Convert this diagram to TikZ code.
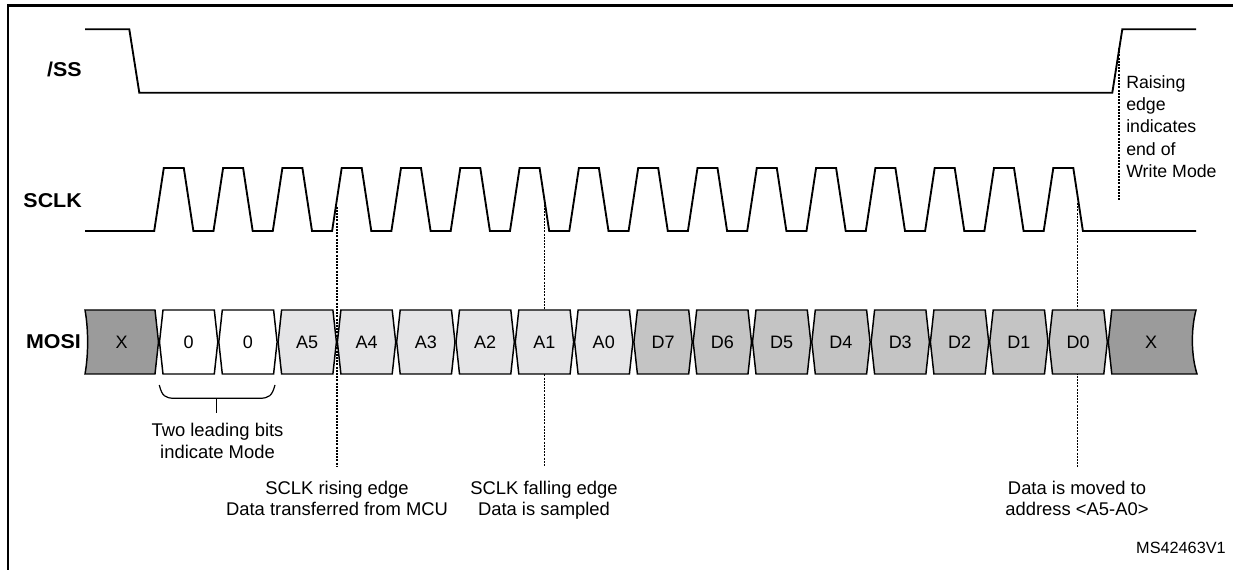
\documentclass[tikz,border=0pt]{standalone}
\usepackage{fontspec}
\setmainfont{Liberation Sans}
\newfontfamily\lblfont{Liberation Sans}[FakeStretch=1.07]
\definecolor{xgray}{HTML}{9B9B9B}
\definecolor{dgray}{HTML}{C4C4C4}
\definecolor{agray}{HTML}{E4E4E6}
\begin{document}
\begin{tikzpicture}[x=0.75pt,y=-0.75pt,
  sig/.style={line width=1.4pt, line join=miter},
  guide/.style={line width=1pt, dash pattern=on 1.5pt off 0.9pt},
  busbox/.style={line width=1.1pt, draw=black},
  lbl/.style={font=\lblfont\fontsize{15}{17}\selectfont\bfseries, inner sep=0pt, anchor=east},
  captext/.style={font=\fontsize{13.8}{16.2}\selectfont, inner sep=0pt, align=center, anchor=north},
  bit/.style={font=\fontsize{13.5}{15}\selectfont, inner sep=0pt}]
\useasboundingbox (0,0) rectangle (1233,570);
\fill[white] (0,0) rectangle (1233,570);
% frame
\draw[line width=1.6pt] (8,570) -- (8,5.5) -- (1233,5.5);
% labels
\node[lbl] (ss) at (82,69.7) {/SS};
\node[lbl] (sclk) at (82,200.5) {SCLK};
\node[lbl] (mosi) at (81,342) {MOSI};
% /SS
\draw[sig] (85,29.3) -- (129.3,29.3) -- (139.3,92.7) -- (1112.3,92.7) -- (1122.3,29.3) -- (1196,29.3);
% SCLK
\draw[sig] (85,231) foreach \k in {0,...,15} {
  -- ({154.2+59.3*\k},231) -- ({163.8+59.3*\k},168) -- ({183.8+59.3*\k},168) -- ({193.4+59.3*\k},231)
} -- (1196,231);
% guide lines
\coordinate (g1a) at (337,206.7);  \coordinate (g1b) at (337,466.7);
\coordinate (g2a) at (544.4,201.7); \coordinate (g2b) at (544.4,466.7);
\coordinate (g3a) at (1077.8,203);  \coordinate (g3b) at (1077.8,466.7);
\coordinate (g4a) at (1119,48);     \coordinate (g4b) at (1119,200);
\draw[guide] (g1a) -- (g1b);
\draw[guide] (g2a) -- (g2b);
\draw[guide] (g3a) -- (g3b);
\draw[guide] (g4a) -- (g4b);
% MOSI bus
\filldraw[busbox, fill=xgray] (85,310) -- (155,310) -- (158.5,342) -- (155,374) -- (85,374)
  .. controls (88.5,355) and (88.5,329) .. (85,310) -- cycle;
\node[bit] (xl) at (121.7,342) {X};
\foreach \t [count=\k from 0] in {0,0,A5,A4,A3,A2,A1,A0,D7,D6,D5,D4,D3,D2,D1,D0} {
  \pgfmathsetmacro\bl{159+59.3*\k}
  \pgfmathsetmacro\br{\bl+59.3}
  \ifnum\k<2 \def\fc{white}\else\ifnum\k<8 \def\fc{agray}\else\def\fc{dgray}\fi\fi
  \filldraw[busbox, fill=\fc] ({\bl+0.5},342) -- ({\bl+4},310) -- ({\br-4},310) -- ({\br-0.5},342)
    -- ({\br-4},374) -- ({\bl+4},374) -- cycle;
  \node[bit] (b\k) at ({\bl+29.65},342) {\t};
}
\filldraw[busbox, fill=xgray] (1108.3,342) -- (1111.8,310) -- (1196,310)
  .. controls (1191,329) and (1191,355) .. (1197,374) -- (1111.8,374) -- cycle;
\node[bit] (xr) at (1151,342) {X};
% brace
\draw[line width=0.9pt] (159.3,385) .. controls (162,396) and (165,398.3) .. (175,398.3) -- (259,398.3)
  .. controls (269,398.3) and (272,396) .. (275,385);
\draw[line width=0.9pt] (216.7,398.3) -- (216.7,413.3);
% captions
\node[captext] (c4) at (217.5,423) {Two leading bits\\indicate Mode};
\node[captext] (c1) at (337,480.5) {SCLK rising edge\\Data transferred from MCU};
\node[captext] (c2) at (544,480.5) {SCLK falling edge\\Data is sampled};
\node[captext] (c3) at (1077,480.5) {Data is moved to\\address <A5-A0>};
\node[anchor=north west, align=left, inner sep=0pt, font=\fontsize{13.3}{16.8}\selectfont] (raise) at (1126,75) {Raising\\edge\\indicates\\end of\\Write Mode};
\node[anchor=east, inner sep=0pt, font=\fontsize{12.2}{15}\selectfont] (ms) at (1226,548) {MS42463V1};
\end{tikzpicture}
\end{document}
